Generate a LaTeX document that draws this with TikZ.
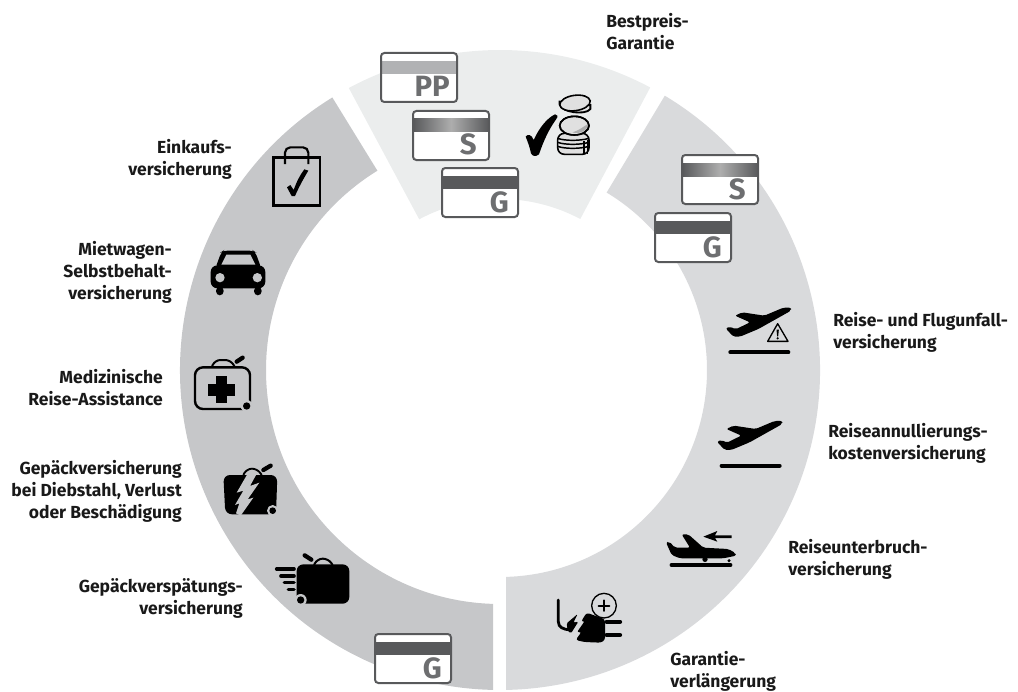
\documentclass[tikz,border=0pt]{standalone}
\usepackage{fontspec}
\setmainfont{Fira Sans}
\definecolor{segA}{HTML}{EBEDED}
\definecolor{segB}{HTML}{D9DADC}
\definecolor{segC}{HTML}{C6C7C9}
\definecolor{cardline}{HTML}{58595B}
\definecolor{cardtxt}{HTML}{6D6E70}
\definecolor{bandPP}{HTML}{B1B2B4}
\tikzset{
  lab/.style={font=\fontsize{13.1pt}{16.5pt}\selectfont\bfseries,inner sep=0pt,text=black!90},
  labl/.style={lab,anchor=west,align=left},
  labr/.style={lab,anchor=east,align=right},
  letter/.style={font=\fontsize{22pt}{22pt}\selectfont\bfseries,text=cardtxt,inner sep=0pt,anchor=base east},
  icon/.style={x=0.25pt,y=-0.25pt},
  cardedge/.style={rounded corners=2.5pt,line width=1.5pt,draw=cardline},
}
\newcommand{\cardG}[3]{%
  \fill[white,rounded corners=2.25pt] (#1,#2) rectangle ++(76,49);
  \fill[#3] (#1,#2+8) rectangle ++(76,13);
  \draw[cardedge] (#1,#2) rectangle ++(76,49);
}
\newcommand{\cardS}[2]{%
  \fill[white,rounded corners=2.25pt] (#1,#2) rectangle ++(76,49);
  \shade[left color=cardline,right color=cardline,middle color=black!32] (#1,#2+8) rectangle ++(76,13);
  \draw[cardedge] (#1,#2) rectangle ++(76,49);
}
\newcommand{\planeup}{%
  \fill[black,rounded corners=1.5pt] (228,38) -- (205,38) -- (148,62) -- (82,52) -- (60,62) -- (105,82) -- (62,103) -- (45,95) -- (32,100) -- (55,125) -- (75,125) -- (130,102) -- (205,60) -- (228,47) -- cycle;
  \draw[black,line width=3pt,line cap=round] (46,172) -- (220,172);
}
\begin{document}
\begin{tikzpicture}[x=0.75pt,y=-0.75pt]
\useasboundingbox (0,0) rectangle (1018,692);
\begin{scope}[shift={(500,370)}]
\fill[segA] (-118.2:320) arc[start angle=-118.2,end angle=-62,radius=320] -- (-62:171) arc[start angle=-62,end angle=-118.2,radius=171] -- cycle;
\fill[segB] (-59:320) arc[start angle=-59,end angle=88.9,radius=320] -- (88.3:207) arc[start angle=88.3,end angle=-59,radius=207] -- cycle;
\fill[segC] (-121.6:320) arc[start angle=-121.6,end angle=-268.75,radius=320] -- (-268.3:234) arc[start angle=-268.3,end angle=-121.6,radius=234] -- cycle;
\end{scope}
% cards
\cardG{381}{53}{bandPP}
\node[letter] (cPP) at (450,97) {PP};
\cardS{413}{111}
\node[letter] (cS1) at (477,155) {S};
\cardG{442}{168}{cardline}
\node[letter] (cG1) at (509,212) {G};
\cardS{682}{155}
\node[letter] (cS2) at (746,199) {S};
\cardG{655}{213}{cardline}
\node[letter] (cG2) at (722,257) {G};
\cardG{375}{634}{cardline}
\node[letter] (cG3) at (442,678) {G};
% check and coins
\begin{scope}[shift={(515,85)},icon]
\fill[black] (32,155) .. controls (38,146) and (50,148) .. (56,165) .. controls (72,130) and (95,100) .. (120,88) .. controls (128,88) and (130,94) .. (124,102) .. controls (100,135) and (85,170) .. (72,208) .. controls (62,216) and (52,214) .. (48,205) .. controls (44,185) and (38,170) .. (32,155) -- cycle;
\draw[black,fill=white!88!black,line width=1.2pt,rounded corners=5pt] (128,145) rectangle (222,208);
\foreach \yy in {160,172,184} \draw[black,line width=1.1pt] (128,\yy) .. controls (150,\yy+8) and (195,\yy+8) .. (222,\yy);
\draw[black,line width=0.8pt] (207,168) -- (207,207) (217,165) -- (217,207);
\draw[black,fill=white!88!black,line width=1.2pt] (178,122) ellipse[x radius=44,y radius=28];
\fill[white!68!black] (172,142) .. controls (195,135) and (205,125) .. (220,116) .. controls (222,132) and (197,150) .. (172,142) -- cycle;
\draw[black,line width=1.2pt] (178,122) ellipse[x radius=44,y radius=28];
\draw[black,line width=1.4pt,fill=white!88!black] (134,58) .. controls (138,82) and (212,92) .. (226,72) -- (226,60) -- (134,50) -- cycle;
\draw[black,fill=white!88!black,line width=1.2pt,rotate around={8:(180,54)}] (180,54) ellipse[x radius=46,y radius=23];
\end{scope}
% bag
\begin{scope}[shift={(180,110)},icon]
\draw[black,line width=1.8pt] (281,142) rectangle (420,287);
\draw[black,line width=1.6pt,rounded corners=4pt] (315,162) -- (315,112) -- (385,112) -- (385,162);
\fill[black,line join=round] (321,232) -- (331,225) -- (341,240) .. controls (350,215) and (360,195) .. (373,178) -- (385,182) .. controls (368,210) and (355,235) .. (345,258) -- (335,258) -- cycle;
\end{scope}
% car
\begin{scope}[shift={(180,110)},icon]
\fill[black,rounded corners=3pt] (106,475) -- (124,426) -- (130,422) -- (220,422) -- (226,426) -- (244,475) -- cycle;
\fill[segC] (124,464) -- (139,434) -- (211,434) -- (226,464) -- cycle;
\fill[black,rounded corners=5pt] (92,535) rectangle (256,466);
\fill[segC] (120,503) circle[radius=14];
\fill[segC] (232,503) circle[radius=14];
\fill[black,rounded corners=3pt] (108,530) rectangle (131,556);
\fill[black,rounded corners=3pt] (222,530) rectangle (245,556);
\end{scope}
% medical case
\begin{scope}[shift={(180,110)},icon]
\draw[black,line width=1.8pt,rounded corners=6pt] (45,772) rectangle (210,897);
\draw[black,line width=1.5pt,rounded corners=4pt] (95,772) -- (105,750) -- (152,750) -- (165,772);
\draw[black,line width=3.2pt,line cap=round] (170,755) -- (188,743);
\fill[black] (85,822) rectangle (165,857);
\fill[black] (108,798) rectangle (142,880);
\fill[segC] (200,888) circle[radius=18];
\fill[black] (200,888) circle[radius=11];
\end{scope}
% broken case
\begin{scope}[shift={(200,450)},icon]
\draw[black,line width=1.4pt,rounded corners=4pt] (130,75) -- (140,56) -- (172,56) -- (185,75);
\draw[black,line width=3.2pt,line cap=round] (190,60) -- (212,47);
\fill[black,rounded corners=5pt] (70,75) -- (232,75) -- (228,193) -- (76,193) -- cycle;
\fill[segC] (148,62) -- (172,68) -- (150,108) -- (178,98) -- (143,148) -- (160,143) -- (122,197) -- (108,190) -- (118,160) -- (105,165) -- (130,122) -- (110,128) -- cycle;
\fill[segC] (218,182) circle[radius=17];
\fill[black] (218,182) circle[radius=10];
\end{scope}
% delayed case
\begin{scope}[shift={(200,450)},icon]
\draw[black,line width=1.5pt,rounded corners=4pt] (342,345) -- (352,326) -- (385,326) -- (398,345);
\draw[black,line width=3.2pt,line cap=round] (314,316) -- (334,329);
\fill[black,rounded corners=5pt] (290,343) rectangle (448,461);
\fill[segC] (302,450) circle[radius=18];
\fill[black] (302,450) circle[radius=11];
\draw[black,line width=2.7pt,line cap=round] (230,357) -- (282,357) (243,378) -- (282,378) (253,398) -- (282,398) (265,418) -- (282,418);
\end{scope}
% planes
\begin{scope}[shift={(715,295)},icon]
\planeup
\draw[black,line width=1pt,line join=round] (188,86) -- (158,139) -- (219,139) -- cycle;
\fill[black] (184.5,104) -- (191.5,104) -- (189.5,124) -- (186.5,124) -- cycle;
\fill[black] (188,130) circle[radius=3.6];
\end{scope}
\begin{scope}[shift={(706.3,408.3)},icon]
\planeup
\end{scope}
\begin{scope}[shift={(660,525)},icon]
\fill[black,rounded corners=1.5pt] (228,92) -- (226,84) -- (205,72) -- (130,68) -- (85,28) -- (65,28) -- (90,68) -- (45,68) -- (28,50) -- (18,52) -- (35,90) -- (60,100) -- (190,100) -- cycle;
\fill[black] (135,103) circle[radius=8];
\fill[black] (207,107) circle[radius=5];
\draw[black,line width=2.6pt,line cap=round] (34,120) -- (212,120);
\fill[black] (130,35) -- (172,18) -- (165,31) -- (215,31) -- (215,39) -- (165,39) -- (172,50) -- cycle;
\end{scope}
% plug
\begin{scope}[shift={(545,590)},icon]
\draw[black,line width=2.1pt,line cap=round] (40,30) -- (40,95) .. controls (40,112) and (55,118) .. (75,120);
\fill[black,rounded corners=1pt] (65,100) -- (98,72) -- (85,98) -- (100,95) -- (78,130) -- (68,122) -- cycle;
\fill[black,rounded corners=2pt] (125,68) -- (180,88) -- (180,150) -- (168,158) -- (118,156) -- (92,150) -- (110,125) -- (95,128) -- (120,92) -- (108,95) -- cycle;
\draw[black,line width=3.2pt,line cap=round] (185,95) -- (225,95) (185,135) -- (225,135);
\fill[segB] (177,47) circle[radius=37];
\draw[black,line width=1pt] (177,47) circle[radius=37];
\draw[black,line width=1.4pt,line cap=round] (161,47) -- (193,47) (177,31) -- (177,63);
\end{scope}
% labels
\node[labl] (l1) at (606,32) {Bestpreis-\\Garantie};
\node[labr] (l2) at (232,159) {Einkaufs-\\versicherung};
\node[labr] (l3) at (172,272.5) {Mietwagen-\\Selbstbehalt-\\versicherung};
\node[labr] (l4) at (163,388) {Medizinische\\Reise-Assistance};
\node[labr] (l5) at (182,491) {Gepäckversicherung\\bei Diebstahl, Verlust\\oder Beschädigung};
\node[labr] (l6) at (243,598) {Gepäckverspätungs-\\versicherung};
\node[labl] (r1) at (833,332) {Reise- und Flugunfall-\\versicherung};
\node[labl] (r2) at (828,443.5) {Reiseannullierungs-\\kostenversicherung};
\node[labl] (r3) at (788,559) {Reiseunterbruch-\\versicherung};
\node[labl] (r4) at (670,671) {Garantie-\\verlängerung};
\end{tikzpicture}
\end{document}
